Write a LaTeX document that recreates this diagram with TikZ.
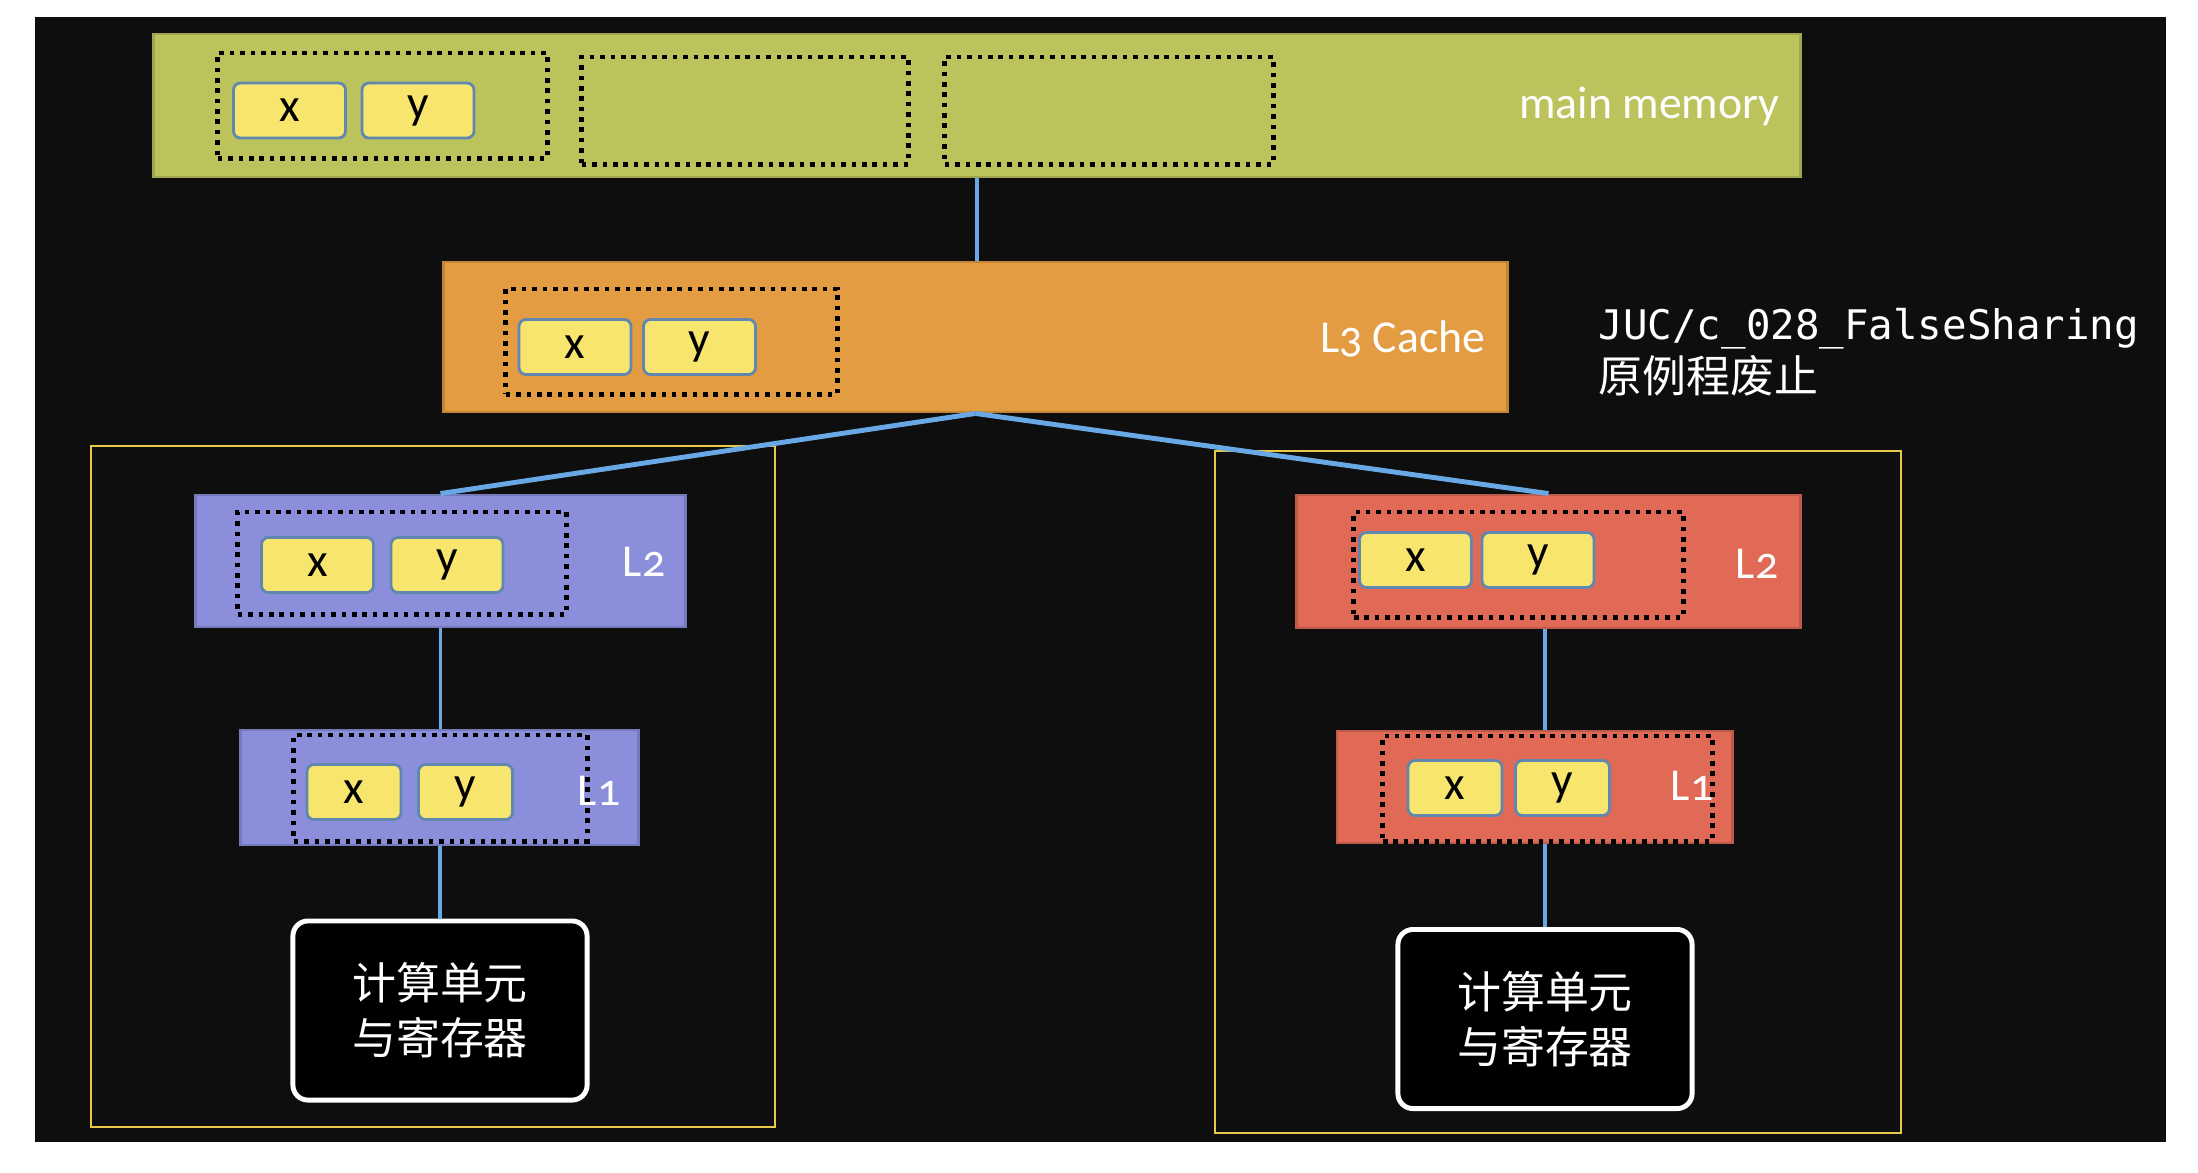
\documentclass[tikz,border=0pt]{standalone}
\usepackage{fontspec}
\setmainfont{Carlito}[Numbers=OldStyle]
\newfontfamily\cjkfont{Noto Sans CJK SC}
\newfontfamily\codefont{DejaVu Sans Mono}
\definecolor{board}{RGB}{14,14,14}
\definecolor{memgreen}{RGB}{188,194,92}
\definecolor{lthree}{RGB}{227,156,66}
\definecolor{coreblue}{RGB}{139,143,219}
\definecolor{corered}{RGB}{224,106,86}
\definecolor{cellyellow}{RGB}{247,229,110}
\definecolor{celledge}{RGB}{95,135,175}
\definecolor{wire}{RGB}{104,168,228}
\definecolor{framey}{RGB}{232,200,72}
\begin{document}
\begin{tikzpicture}[x=0.01cm,y=-0.01cm,
  cachebox/.style={draw=#1!85!black, fill=#1, line width=0.8pt, inner sep=0pt},
  lineslot/.style={draw=black, line width=1.4pt, dash pattern=on 1.3pt off 1.65pt, inner sep=0pt},
  cell/.style={draw=celledge, fill=cellyellow, line width=0.8pt, rounded corners=0.07cm,
    minimum width=1.12cm, minimum height=0.55cm, inner sep=0pt, font=\fontsize{13.5}{15}\selectfont},
  smallcell/.style={cell, minimum width=0.94cm, minimum height=0.55cm},
  tag/.style={text=white, inner sep=0pt, font=\fontsize{13}{15}\selectfont},
  cu/.style={draw=white, fill=black, line width=1.4pt, rounded corners=0.15cm, text=white,
    align=center, minimum width=2.94cm, minimum height=1.79cm,
    font=\cjkfont\fontsize{12.5}{15.6}\selectfont},
  wireline/.style={draw=wire, line width=1pt},
  frame/.style={draw=framey, line width=0.7pt}]
\fill[white] (0,0) rectangle (2198,1172);
\fill[board] (35,17) rectangle (2166,1142);
\draw[frame] (91,446) rectangle (775,1127);
\draw[frame] (1215,451) rectangle (1901,1133);
\node[cachebox=memgreen, minimum width=16.46cm, minimum height=1.43cm] (mem) at (977,105.5) {};
\node[lineslot, minimum width=3.29cm, minimum height=1.05cm] (memA) at (382.5,105.5) {};
\node[lineslot, minimum width=3.26cm, minimum height=1.07cm] (memB) at (745,110.5) {};
\node[lineslot, minimum width=3.28cm, minimum height=1.07cm] (memC) at (1109,110.5) {};
\node[cell] (memx) at (289.5,110.5) {x};
\node[cell] (memy) at (418,110.5) {y};
\node[tag, anchor=east] (memlabel) at (1780,106) {main memory};
\node[cachebox=lthree, minimum width=10.63cm, minimum height=1.5cm] (l3) at (975.5,337) {};
\node[lineslot, minimum width=3.31cm, minimum height=1.05cm] (l3A) at (671.5,341.5) {};
\node[cell] (l3x) at (575,347) {x};
\node[cell] (l3y) at (699.5,347) {y};
\node[tag, anchor=east] (l3label) at (1486,339) {L3 Cache};
\node[cachebox=coreblue, minimum width=4.89cm, minimum height=1.32cm] (l2L) at (440.5,561) {};
\node[lineslot, minimum width=3.28cm, minimum height=1.02cm] (l2LA) at (402,563) {};
\node[cell] (l2Lx) at (317.5,565) {x};
\node[cell] (l2Ly) at (447,565) {y};
\node[tag] (l2Llabel) at (644,562) {L2};
\node[cachebox=coreblue, minimum width=3.97cm, minimum height=1.15cm] (l1L) at (439.5,787.5) {};
\node[tag] (l1Llabel) at (599,791) {L1};
\node[lineslot, minimum width=2.93cm, minimum height=1.06cm] (l1LA) at (440.5,788) {};
\node[smallcell] (l1Lx) at (354,792) {x};
\node[smallcell] (l1Ly) at (465.5,792) {y};
\node[cu] (cuL) at (440,1010.5) {计算单元\\与寄存器};
\node[cachebox=corered, minimum width=5.03cm, minimum height=1.33cm] (l2R) at (1548.5,561.5) {};
\node[lineslot, minimum width=3.29cm, minimum height=1.05cm] (l2RA) at (1518.5,564.5) {};
\node[cell] (l2Rx) at (1415.5,560) {x};
\node[cell] (l2Ry) at (1538,560) {y};
\node[tag] (l2Rlabel) at (1757,564) {L2};
\node[cachebox=corered, minimum width=3.95cm, minimum height=1.12cm] (l1R) at (1534.5,787) {};
\node[tag] (l1Rlabel) at (1692,786) {L1};
\node[lineslot, minimum width=3.29cm, minimum height=1.05cm] (l1RA) at (1547.5,788.5) {};
\node[smallcell] (l1Rx) at (1455,788) {x};
\node[smallcell] (l1Ry) at (1562.5,788) {y};
\node[cu] (cuR) at (1545,1019) {计算单元\\与寄存器};
\node[anchor=west, inner sep=0pt, text=white, font=\codefont\fontsize{11.6}{14}\selectfont] (note) at (1598,329) {JUC/c\_028\_FalseSharing};
\node[anchor=west, inner sep=0pt, text=white, font=\cjkfont\fontsize{12.5}{15}\selectfont] (notecn) at (1598,376) {原例程废止};
\draw[wireline] (mem.south) -- (mem.south |- l3.north);
\draw[wireline, line width=1.4pt] (l3.south) -- (l2L.north);
\draw[wireline, line width=1.4pt] (l3.south) -- (l2R.north);
\draw[wireline] (l2L.south) -- (l2L.south |- l1L.north);
\draw[wireline] (cuL.north |- l1L.south) -- (cuL.north);
\draw[wireline] (cuR.north |- l2R.south) -- (cuR.north |- l1R.north);
\draw[wireline] (cuR.north |- l1R.south) -- (cuR.north);
\end{tikzpicture}
\end{document}
